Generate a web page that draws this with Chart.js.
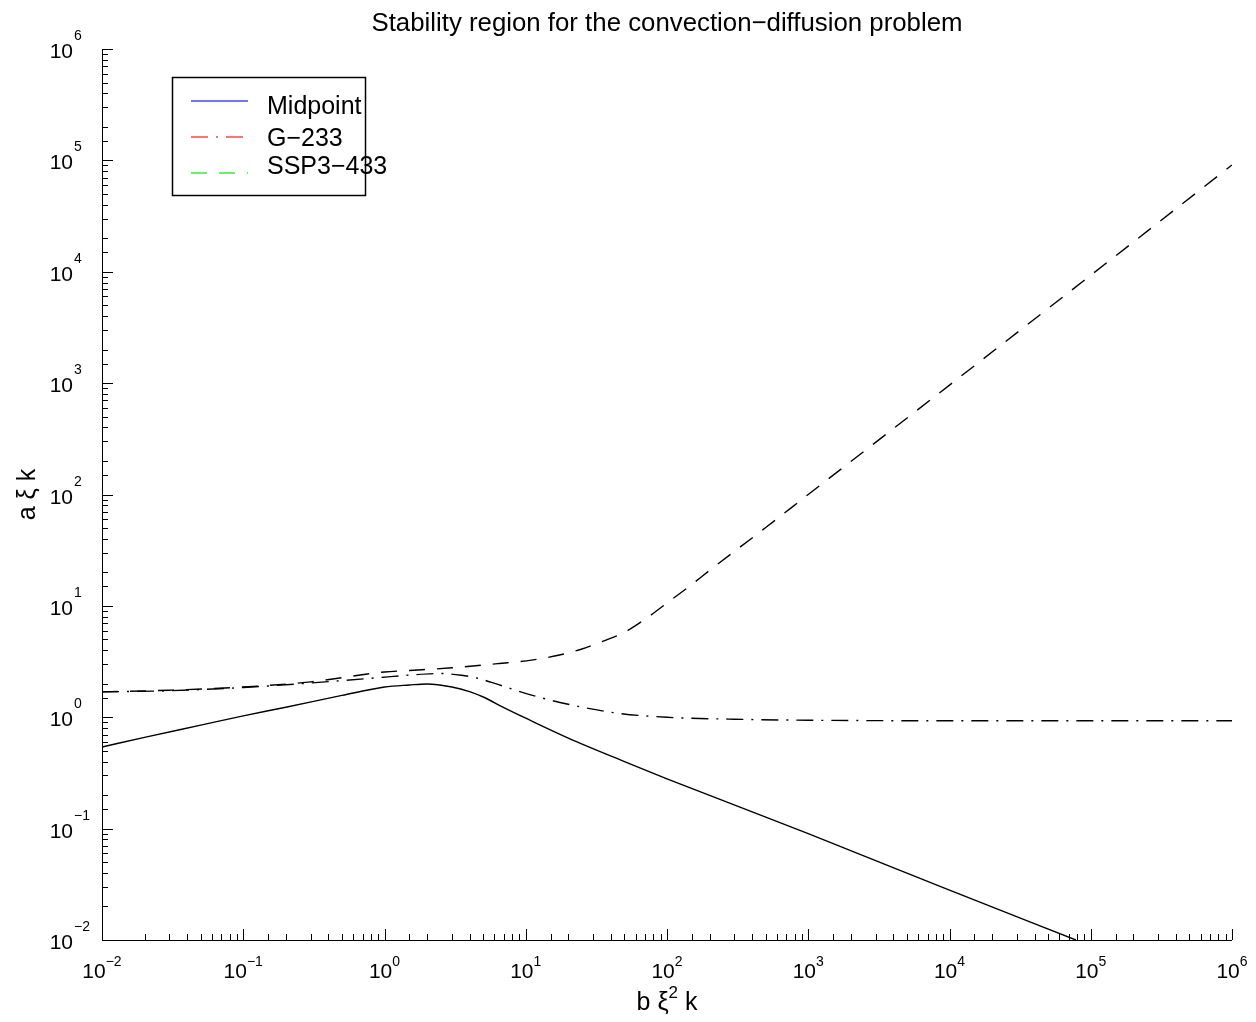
<!DOCTYPE html>
<html>
<head>
<meta charset="utf-8">
<script src="https://cdn.jsdelivr.net/npm/chart.js@4/dist/chart.umd.min.js"></script>
<style>
  html, body { margin: 0; padding: 0; background: #fff; }
  #wrap { width: 1256px; height: 1022px; }
</style>
</head>
<body>
<div id="wrap"><canvas id="chart" width="1256" height="1022"></canvas></div>
<script>
// values (log-log)
const seriesNames = ['Midpoint', 'G\u2212233', 'SSP3\u2212433']
const legendColors = ['rgb(70,70,255)', 'rgb(255,70,70)', 'rgb(60,235,60)']

const midX = [0.01, 0.02, 0.05, 0.1, 0.2, 0.5, 1, 1.5, 2, 3, 4, 5, 7, 10, 20, 50, 100, 1000, 10000, 78500]
const midY = [0.54, 0.66, 0.85, 1.03, 1.23, 1.57, 1.87, 1.95, 1.99, 1.87, 1.70, 1.52, 1.22, 0.98, 0.65, 0.40, 0.28, 0.09, 0.028, 0.01]

const g233X = [0.01, 0.03, 0.1, 0.3, 1, 1.5, 2.5, 3.5, 4.5, 6.5, 11, 21, 44, 100, 300, 1000, 10000, 1000000]
const g233Y = [1.69, 1.73, 1.85, 2.03, 2.29, 2.39, 2.47, 2.38, 2.25, 1.95, 1.58, 1.29, 1.09, 1.0, 0.96, 0.94, 0.93, 0.93]

const sspX = [0.01, 0.03, 0.1, 0.3, 1, 1.5, 3, 6.5, 11, 17, 25, 35, 50, 70, 100, 150, 200, 500, 1000, 10000, 100000, 1000000]
const sspY = [1.69, 1.75, 1.87, 2.08, 2.55, 2.63, 2.78, 3.04, 3.26, 3.6, 4.1, 4.8, 5.8, 7.6, 10.6, 15.6, 20.8, 50.5, 100, 960, 9300, 91000]

const decades = [-2, -1, 0, 1, 2, 3, 4, 5, 6]

const FONT = '"Liberation Sans", Arial, Helvetica, sans-serif'

function toPoints(xs, ys) {
  return xs.map((x, i) => ({ x: x, y: ys[i] }))
}

function expText(n) {
  return n < 0 ? '\u2212' + Math.abs(n) : String(n)
}

function isDecade(v) {
  const l = Math.log10(v)
  return Math.abs(l - Math.round(l)) < 1e-6
}

const axisDecor = {
  id: 'axisDecor',
  afterDraw(chart) {
    const ctx = chart.ctx
    const { left, right, top, bottom } = chart.chartArea
    const xs = chart.scales.x
    const ys = chart.scales.y
    ctx.save()
    ctx.strokeStyle = '#000'
    ctx.fillStyle = '#000'
    ctx.lineWidth = 1

    // axis lines
    ctx.beginPath()
    ctx.moveTo(left + 0.5, top)
    ctx.lineTo(left + 0.5, bottom + 0.5)
    ctx.lineTo(right, bottom + 0.5)
    ctx.stroke()

    // inward ticks
    ctx.beginPath()
    xs.ticks.forEach((t) => {
      const px = Math.round(xs.getPixelForValue(t.value)) + 0.5
      const len = isDecade(t.value) ? 11 : 6
      ctx.moveTo(px, bottom)
      ctx.lineTo(px, bottom - len)
    })
    ys.ticks.forEach((t) => {
      const py = Math.round(ys.getPixelForValue(t.value)) + 0.5
      const len = isDecade(t.value) ? 11 : 6
      ctx.moveTo(left, py)
      ctx.lineTo(left + len, py)
    })
    ctx.stroke()

    // tick labels 10^n
    ctx.textBaseline = 'alphabetic'
    decades.forEach((d) => {
      const v = Math.pow(10, d)
      const e = expText(d)
      ctx.font = '21px ' + FONT
      const w10 = ctx.measureText('10').width
      ctx.font = '14px ' + FONT
      const we = ctx.measureText(e).width

      // x axis
      const px = xs.getPixelForValue(v)
      const x0 = px - (w10 + we) / 2
      ctx.textAlign = 'left'
      ctx.font = '21px ' + FONT
      ctx.fillText('10', x0, bottom + 38)
      ctx.font = '14px ' + FONT
      ctx.fillText(e, x0 + w10, bottom + 26)

      // y axis: base "10" right edge aligned, exponent sticks out
      const py = ys.getPixelForValue(v)
      const xb = left - 29
      ctx.textAlign = 'right'
      ctx.font = '21px ' + FONT
      ctx.fillText('10', xb, py + 9)
      ctx.textAlign = 'left'
      ctx.font = '14px ' + FONT
      ctx.fillText(e, xb + 1, py - 9)
    })

    // title
    ctx.textAlign = 'center'
    ctx.font = '25.8px ' + FONT
    ctx.fillText('Stability region for the convection\u2212diffusion problem', (left + right) / 2, 31)

    // x axis title with superscript
    const cx = (left + right) / 2
    ctx.font = '25px ' + FONT
    const p1 = 'b \u03BE'
    const p3 = ' k'
    const w1 = ctx.measureText(p1).width
    const w3 = ctx.measureText(p3).width
    ctx.font = '17px ' + FONT
    const w2 = ctx.measureText('2').width
    let xt = cx - (w1 + w2 + w3) / 2
    ctx.textAlign = 'left'
    ctx.font = '25px ' + FONT
    ctx.fillText(p1, xt, 1010)
    ctx.font = '17px ' + FONT
    ctx.fillText('2', xt + w1, 998)
    ctx.font = '25px ' + FONT
    ctx.fillText(p3, xt + w1 + w2, 1010)

    // y axis title
    ctx.save()
    ctx.translate(35, (top + bottom) / 2)
    ctx.rotate(-Math.PI / 2)
    ctx.textAlign = 'center'
    ctx.font = '25px ' + FONT
    ctx.fillText('a \u03BE k', 0, 0)
    ctx.restore()

    // legend box
    ctx.lineWidth = 1.5
    ctx.strokeStyle = '#000'
    ctx.strokeRect(172.5, 77.5, 193, 118)
    const lineYs = [101, 137, 173]
    const textYs = [114, 146, 174]
    chart.data.datasets.forEach((ds, i) => {
      ctx.beginPath()
      ctx.strokeStyle = legendColors[i]
      ctx.lineWidth = 1.5
      ctx.setLineDash(ds.borderDash || [])
      ctx.moveTo(191, lineYs[i])
      ctx.lineTo(248, lineYs[i])
      ctx.stroke()
      ctx.setLineDash([])
      ctx.textAlign = 'left'
      ctx.font = '25px ' + FONT
      ctx.fillText(seriesNames[i], 267, textYs[i])
    })
    ctx.restore()
  }
}

new Chart(document.getElementById('chart'), {
  type: 'scatter',
  data: {
    datasets: [
      {
        label: seriesNames[0],
        data: toPoints(midX, midY),
        borderColor: '#000',
        borderWidth: 1.4,
        borderDash: [],
      },
      {
        label: seriesNames[1],
        data: toPoints(g233X, g233Y),
        borderColor: '#000',
        borderWidth: 1.4,
        borderDash: [17, 8, 2, 8],
      },
      {
        label: seriesNames[2],
        data: toPoints(sspX, sspY),
        borderColor: '#000',
        borderWidth: 1.4,
        borderDash: [16, 12],
      },
    ],
  },
  options: {
    responsive: false,
    animation: false,
    layout: { padding: { left: 102, right: 24, top: 49, bottom: 82 } },
    datasets: {
      scatter: { showLine: true, pointRadius: 0, cubicInterpolationMode: 'monotone', fill: false },
    },
    scales: {
      x: {
        type: 'logarithmic',
        min: 0.01,
        max: 1e6,
        grid: { display: false, drawTicks: false },
        border: { display: false },
        ticks: { display: false, autoSkip: false },
        afterFit: (s) => { s.height = 0 },
      },
      y: {
        type: 'logarithmic',
        min: 0.01,
        max: 1e6,
        grid: { display: false, drawTicks: false },
        border: { display: false },
        ticks: { display: false, autoSkip: false },
        afterFit: (s) => { s.width = 0 },
      },
    },
    plugins: {
      legend: { display: false },
      tooltip: { enabled: false },
    },
  },
  plugins: [axisDecor],
})
</script>
</body>
</html>
